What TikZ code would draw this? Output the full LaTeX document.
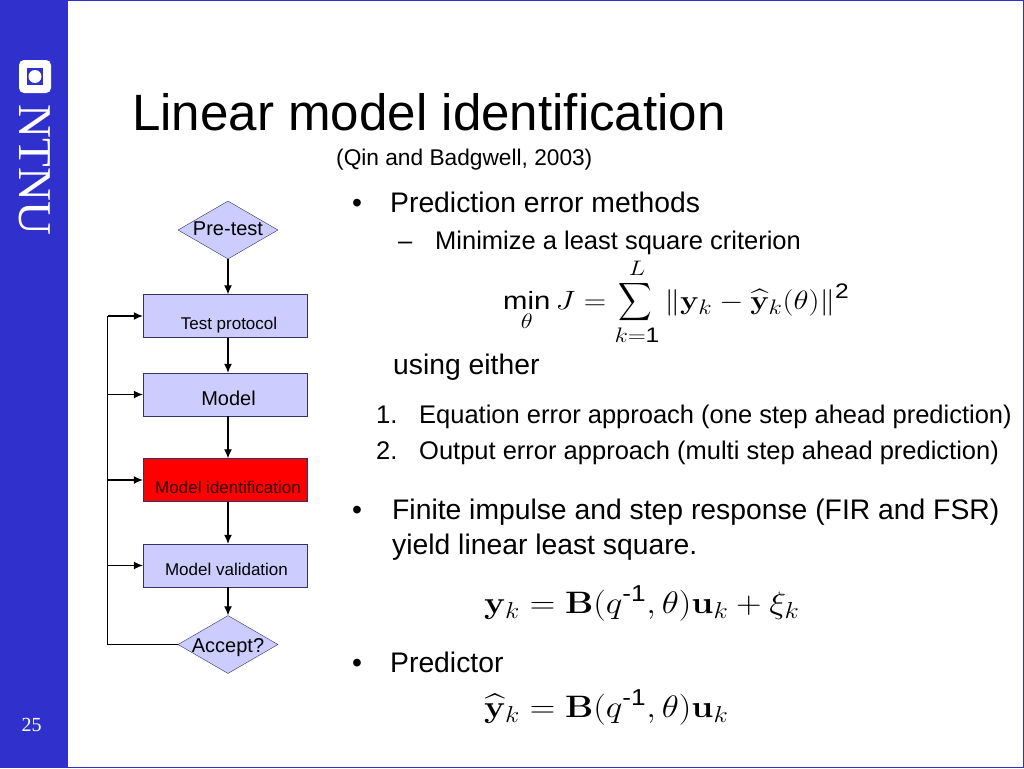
\RequirePackage{fix-cm}
\documentclass[tikz,border=0pt]{standalone}
\usepackage{amsmath}
\usepackage{amssymb}
\usepackage[no-math]{fontspec}
\setmainfont{Liberation Sans}
\newfontfamily\logofont{Liberation Serif}
\usetikzlibrary{shapes.geometric,arrows.meta}
\definecolor{ntnublue}{RGB}{48,48,204}
\definecolor{boxblue}{RGB}{204,204,255}
\definecolor{boxline}{RGB}{51,51,102}
\DeclareMathSizes{26.5}{26.5}{21}{15}
\DeclareMathSizes{31}{31}{23}{16}
\newcommand{\px}[1]{\fontsize{#1}{#1}\selectfont}
\newcommand{\shifted}[3]{\raisebox{#2}[0pt][0pt]{\makebox[0pt]{\hspace{#1}#3}}}
\newcommand{\slimsum}{\mathop{\scalebox{0.75}[1]{$\displaystyle\sum$}}\limits}
\tikzset{
	flowbox/.style={draw=boxline,fill=boxblue,minimum width=164pt,minimum height=43pt,inner sep=0pt},
	flowtest/.style={diamond,draw=boxline,fill=boxblue,minimum width=100pt,minimum height=58pt,inner sep=0pt},
	flowarrow/.style={draw=black,line width=1.1pt,-{Latex[length=9pt,width=8pt]}},
	bodytext/.style={anchor=base west,inner sep=0pt,text=black},
	eqn/.style={anchor=base west,inner sep=0pt,text=black}
}
\begin{document}
\begin{tikzpicture}[x=1pt,y=-1pt]
	\useasboundingbox (0,0) rectangle (1024,768);
	\fill[white] (0,0) rectangle (1024,768);
	\draw[ntnublue,line width=1.5pt] (0,0.7) rectangle (1023.3,767.3);
	\fill[ntnublue] (0,0) rectangle (68,768);
	% logo
	\fill[white,rounded corners=5pt] (19,60) rectangle (51,93);
	\fill[ntnublue] (27,68) rectangle (43,85);
	\fill[white] (35,76.5) circle (6.5);
	\node[text=white,rotate=-90,inner sep=0pt] (ntnu) at (34.5,170) {\logofont\px{47}NTNU};
	\node[text=white,inner sep=0pt] (page) at (31.5,725) {\logofont\px{20}25};
	% title
	\node[bodytext] (title) at (132,130) {\px{51.1}Linear model identification};
	\node[bodytext] (ref) at (336,165) {\px{22.7}(Qin and Badgwell, 2003)};
	% flow chart
	\node[flowtest] (pretest) at (228,230) {\px{20}\shifted{0pt}{-5pt}{Pre-test}};
	\node[flowbox] (protocol) at (225,316) {\px{17}\shifted{8pt}{-13pt}{Test protocol}};
	\node[flowbox] (model) at (225,394.5) {\px{20}\shifted{7pt}{-11pt}{Model}};
	\node[flowbox,fill=red] (ident) at (225,480) {\px{17}\shifted{6pt}{-13pt}{\textcolor{black!80!red}{Model identification}}};
	\node[flowbox] (valid) at (225,565.5) {\px{17}\shifted{3pt}{-10pt}{Model validation}};
	\node[flowtest] (accept) at (228,644.5) {\px{20}\shifted{0pt}{-8pt}{Accept?}};
	\coordinate (loop) at (107.5,644.5);
	\draw[flowarrow] (pretest.south) -- (pretest.south|-protocol.north);
	\draw[flowarrow] (pretest.south|-protocol.south) -- (pretest.south|-model.north);
	\draw[flowarrow] (pretest.south|-model.south) -- (pretest.south|-ident.north);
	\draw[flowarrow] (pretest.south|-ident.south) -- (pretest.south|-valid.north);
	\draw[flowarrow] (pretest.south|-valid.south) -- (accept.north);
	\draw[black,line width=1.1pt] (accept.west) -- (loop) -- (loop|-protocol.west);
	\foreach \n in {protocol,model,ident,valid}{
		\draw[flowarrow] (loop|-\n.west) -- (\n.west);
	}
	% text
	\node[bodytext] (b1) at (352,212) {\px{28.3}•};
	\node[bodytext] (t1) at (390,212) {\px{28.3}Prediction error methods};
	\node[bodytext] (b2) at (398,249) {\px{25.5}–};
	\node[bodytext] (t2) at (435,249) {\px{25.5}Minimize a least square criterion};
	\node[eqn] (eq1) at (503,309) {\px{26.5}\scalebox{1.17}[1]{$\displaystyle\mathop{\text{\px{25}min}}\limits_{\theta} J=\slimsum_{k=\text{1}}^{L}\|\mathbf{y}_k-\widehat{\mathbf{y}}_k(\theta)\|^{\text{2}}$}};
	\node[bodytext] (using) at (393,374) {\px{28.3}using either};
	\node[bodytext] (n1) at (376,423) {\px{25.5}1.};
	\node[bodytext] (e1) at (419,423) {\px{25.5}Equation error approach (one step ahead prediction)};
	\node[bodytext] (n2) at (376,459) {\px{25.5}2.};
	\node[bodytext] (e2) at (419,459) {\px{25.5}Output error approach (multi step ahead prediction)};
	\node[bodytext] (b3) at (352,519) {\px{28.3}•};
	\node[bodytext] (t3) at (392,519) {\px{28.3}Finite impulse and step response (FIR and FSR)};
	\node[bodytext] (t4) at (392,554) {\px{28.3}yield linear least square.};
	\node[eqn] (eq2) at (484,613) {\px{31}\scalebox{1.14}[1]{$\mathbf{y}_k=\mathbf{B}(q^{\text{-1}},\theta)\mathbf{u}_k+\xi_k$}};
	\node[bodytext] (b4) at (352,672) {\px{28.3}•};
	\node[bodytext] (t5) at (390,672) {\px{28.3}Predictor};
	\node[eqn] (eq3) at (484,717) {\px{31}\scalebox{1.14}[1]{$\widehat{\mathbf{y}}_k=\mathbf{B}(q^{\text{-1}},\theta)\mathbf{u}_k$}};
\end{tikzpicture}
\end{document}
